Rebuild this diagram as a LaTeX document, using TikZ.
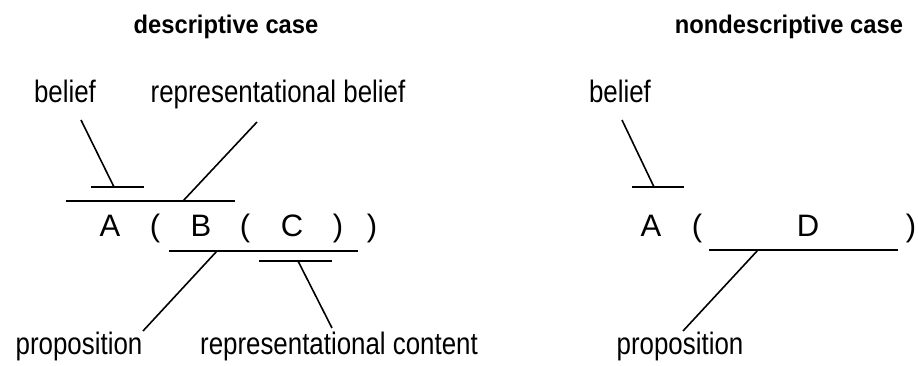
\documentclass[tikz,border=0pt]{standalone}
\usepackage{fontspec}
\setmainfont{Liberation Sans}
\newfontfamily\labelfont[FakeStretch=0.835]{Liberation Sans}
\newfontfamily\titlefont[FakeStretch=0.93]{Liberation Sans}
\begin{document}
\begin{tikzpicture}[x=1pt,y=-1pt,
  lbl/.style={inner sep=0pt,anchor=base,font=\labelfont\fontsize{31}{33}\selectfont},
  ttl/.style={inner sep=0pt,anchor=base,font=\titlefont\bfseries\fontsize{25.5}{27}\selectfont},
  sym/.style={inner sep=0pt,anchor=base,font=\fontsize{31}{33}\selectfont},
  ln/.style={line width=1.6pt}]
\useasboundingbox (0,0) rectangle (919,366);
% titles
\node[ttl] (t1) at (226,33.5) {descriptive case};
\node[ttl] (t2) at (789,33.5) {nondescriptive case};
% left labels
\node[lbl] (bel1) at (65,103) {belief};
\node[lbl] (rbel) at (278,103) {representational belief};
\node[lbl] (prop1) at (79,355) {proposition};
\node[lbl] (rcon) at (339,355) {representational content};
% left formula
\node[sym] (A1) at (110,237) {A};
\node[sym] (p1) at (155,237) {(};
\node[sym] (B) at (201,237) {B};
\node[sym] (p2) at (245,237) {(};
\node[sym] (C) at (292,237) {C};
\node[sym] (q1) at (338,237) {)};
\node[sym] (q2) at (372,237) {)};
% left brackets
\coordinate (s1a) at (91,187); \coordinate (s1b) at (144,187); \coordinate (s1m) at (114,187);
\coordinate (l1a) at (66,201); \coordinate (l1b) at (235,201); \coordinate (l1m) at (183,201);
\coordinate (l2a) at (169,251); \coordinate (l2b) at (358,251); \coordinate (l2m) at (217,251);
\coordinate (l3a) at (259,261); \coordinate (l3b) at (332,261); \coordinate (l3m) at (298,261);
\coordinate (c1) at (81,120); \coordinate (c2) at (257,122);
\coordinate (c3) at (143,331); \coordinate (c4) at (332,328);
\draw[ln] (s1a) -- (s1b);
\draw[ln] (l1a) -- (l1b);
\draw[ln] (l2a) -- (l2b);
\draw[ln] (l3a) -- (l3b);
\draw[ln] (c1) -- (s1m);
\draw[ln] (c2) -- (l1m);
\draw[ln] (l2m) -- (c3);
\draw[ln] (l3m) -- (c4);
% right labels
\node[lbl] (bel2) at (620,103) {belief};
\node[lbl] (prop2) at (680,355) {proposition};
% right formula
\node[sym] (A2) at (651,237) {A};
\node[sym] (p3) at (697,237) {(};
\node[sym] (D) at (808,237) {D};
\node[sym] (q3) at (911,237) {)};
\coordinate (s2a) at (632,187); \coordinate (s2b) at (684,187); \coordinate (s2m) at (654,187);
\coordinate (l4a) at (709,250); \coordinate (l4b) at (898,250); \coordinate (l4m) at (758,250);
\coordinate (c5) at (622,120); \coordinate (c6) at (683,331);
\draw[ln] (s2a) -- (s2b);
\draw[ln] (l4a) -- (l4b);
\draw[ln] (c5) -- (s2m);
\draw[ln] (l4m) -- (c6);
\end{tikzpicture}
\end{document}
